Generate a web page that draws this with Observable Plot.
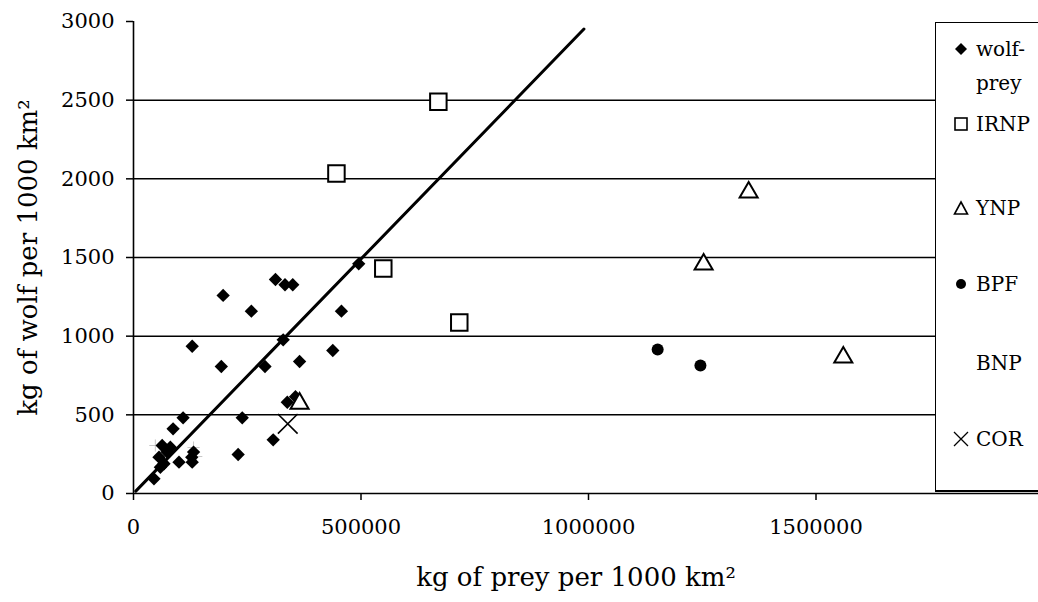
<!DOCTYPE html>
<html>
<head>
<meta charset="utf-8">
<script src="https://cdn.jsdelivr.net/npm/d3@7"></script>
<script src="https://cdn.jsdelivr.net/npm/@observablehq/plot@0.6"></script>
<style>
  body { margin: 0; background: #fff; overflow: hidden; }
  #chart { position: relative; width: 1038px; height: 602px; overflow: hidden;
           font-family: "DejaVu Serif"; color: #000; }
  #legend { position: absolute; left: 935px; top: 22px; width: 140px; height: 467px;
            border: 1.5px solid #000; border-bottom-width: 2px; background: #fff; }
  .item { position: absolute; left: 0; height: 26px; line-height: 26px; font-size: 20px; white-space: nowrap; }
  .item svg { position: absolute; left: 18px; top: 6px; overflow: visible; }
  .item span { position: absolute; left: 40px; top: 0; }
</style>
</head>
<body>
<div id="chart">
  <div id="legend"></div>
</div>
<script>
// Wolf biomass vs. prey biomass, kg per 1000 km²
const wolfPreyX = [312000, 333000, 350000, 197000, 259000, 457000, 495000, 129000, 329000, 438000,
                   193000, 289000, 365000, 338000, 356000, 109000, 239000, 87000, 307000, 230000,
                   100000, 129000, 45000, 63000, 74000, 56000, 67000, 81000, 59000, 132000, 128000];
const wolfPreyY = [1360, 1327, 1327, 1259, 1159, 1159, 1460, 936, 977, 909,
                   807, 807, 839, 580, 615, 481, 481, 411, 341, 248,
                   199, 199, 93, 305, 263, 231, 189, 294, 167, 263, 230];

const irnpX = [670000, 446000, 549000, 716000];
const irnpY = [2490, 2034, 1430, 1087];

const ynpX = [1352000, 1253000, 1560000, 365000];
const ynpY = [1914, 1456, 865, 572];

const bpfX = [1152000, 1246000];
const bpfY = [915, 814];

const bnpX = [48000, 59000, 132000, 138000];
const bnpY = [305, 242, 292, 235];

const corX = [339000];
const corY = [443];

// fitted line through the wolf-prey points
const fitX = [5000, 990000];
const fitY = [15, 2952];

const yTicks = [0, 500, 1000, 1500, 2000, 2500, 3000];
const xTicks = [0, 500000, 1000000, 1500000];
const gridY = [500, 1000, 1500, 2000, 2500];

const xTitle = "kg of prey per 1000 km²";
const yTitle = "kg of wolf per 1000 km²";

const serif = "'DejaVu Serif'";

const rows = (xs, ys) => xs.map((x, i) => ({x, y: ys[i]}));

const chart = Plot.plot({
  width: 1038,
  height: 602,
  marginLeft: 133,
  marginRight: 0,
  marginTop: 21,
  marginBottom: 109,
  style: {fontFamily: serif, background: "#fff", color: "#000", fontSize: "21px"},
  x: {domain: [0, 1989011]},
  y: {domain: [0, 3000]},
  marks: [
    Plot.ruleY(gridY, {stroke: "#000", strokeWidth: 1.5}),
    Plot.axisY({ticks: yTicks, tickSize: 7, tickPadding: 12, tickFormat: d => String(d), label: null, fontSize: 21, fontFamily: serif, strokeWidth: 1.5}),
    Plot.axisX({ticks: xTicks, tickSize: 7, tickPadding: 19, tickFormat: d => String(d), label: null, fontSize: 21, fontFamily: serif, strokeWidth: 1.5}),
    Plot.ruleX([0], {stroke: "#000", strokeWidth: 1.6}),
    Plot.ruleY([0], {stroke: "#000", strokeWidth: 1.6}),
    Plot.text([yTitle], {frameAnchor: "left", rotate: -90, dx: -105, fontSize: 26, fontFamily: serif, textAnchor: "middle", lineAnchor: "middle", fill: "#000"}),
    Plot.text([xTitle], {frameAnchor: "bottom", dx: -10, dy: 84, fontSize: 26, fontFamily: serif, textAnchor: "middle", lineAnchor: "middle", fill: "#000"}),
    Plot.line(rows(fitX, fitY), {x: "x", y: "y", stroke: "#000", strokeWidth: 3}),
    Plot.dot(rows(bnpX, bnpY), {x: "x", y: "y", symbol: "plus", r: 4, stroke: "#c8c8c8", strokeWidth: 1}),
    Plot.dot(rows(wolfPreyX, wolfPreyY), {x: "x", y: "y", symbol: "diamond2", r: 6, fill: "#000", stroke: "none"}),
    Plot.dot(rows(irnpX, irnpY), {x: "x", y: "y", symbol: "square2", r: 10.5, fill: "#fff", stroke: "#000", strokeWidth: 2}),
    Plot.dot(rows(ynpX, ynpY), {x: "x", y: "y", symbol: "triangle2", r: 8.6, fill: "#fff", stroke: "#000", strokeWidth: 2}),
    Plot.dot(rows(bpfX, bpfY), {x: "x", y: "y", symbol: "circle", r: 6, fill: "#000", stroke: "none"}),
    Plot.dot(rows(corX, corY), {x: "x", y: "y", symbol: "times", r: 9, stroke: "#000", strokeWidth: 1.6})
  ]
});
document.getElementById("chart").insertBefore(chart, document.getElementById("legend"));

// Legend: marker glyph + series name
const legendItems = [
  {top: 13, name: "wolf-", shape: '<path d="M7,1 L13,7 L7,13 L1,7 Z" fill="#000"/>'},
  {top: 47, name: "prey", shape: ""},
  {top: 88, name: "IRNP", shape: '<rect x="1" y="1" width="12" height="12" fill="#fff" stroke="#000" stroke-width="1.6"/>'},
  {top: 172, name: "YNP", shape: '<path d="M7,1 L13.5,13 L0.5,13 Z" fill="#fff" stroke="#000" stroke-width="1.6"/>'},
  {top: 248, name: "BPF", shape: '<circle cx="7" cy="7" r="5" fill="#000"/>'},
  {top: 327, name: "BNP", shape: ""},
  {top: 403, name: "COR", shape: '<path d="M0,0 L14,14 M14,0 L0,14" stroke="#000" stroke-width="1.3"/>'}
];
const legend = document.getElementById("legend");
for (const it of legendItems) {
  const d = document.createElement("div");
  d.className = "item";
  d.style.top = it.top + "px";
  d.innerHTML = (it.shape ? `<svg width="14" height="14">${it.shape}</svg>` : "") + `<span>${it.name}</span>`;
  legend.appendChild(d);
}
</script>
</body>
</html>
